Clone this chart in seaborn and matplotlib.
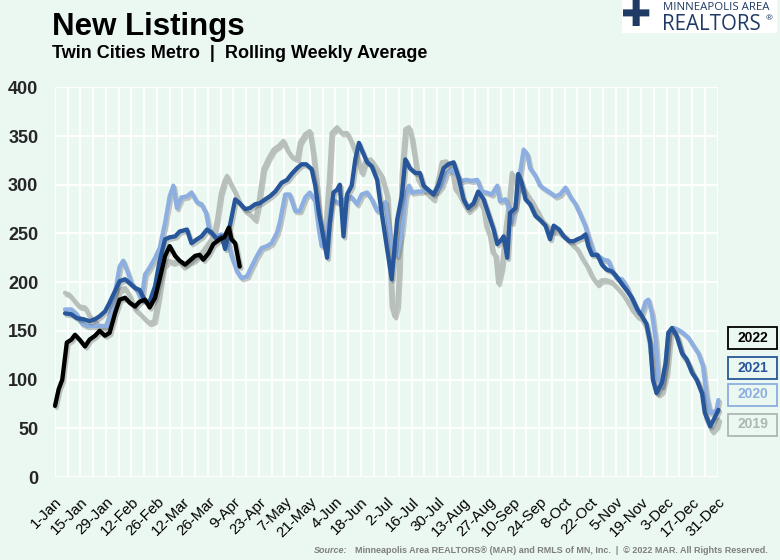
import numpy as np
import pandas as pd
import matplotlib
matplotlib.use("Agg")
import matplotlib.pyplot as plt
import matplotlib.patheffects as pe
from matplotlib.patches import Rectangle
import seaborn as sns

# ---------------- data ----------------
years = ["2019", "2020", "2021", "2022"]

days_2022 = [0, 2, 4, 6.5, 9, 11, 13.5, 16.5, 19, 22, 24.5, 27.5, 30, 33, 35.5, 38.5, 41, 44, 46.5, 49.5,
             52, 55, 57.5, 60.5, 63, 66, 68.5, 71.5, 74, 77, 79.5, 81.5, 84.5, 87, 90.5, 93, 95.5, 97, 99, 101.5]
vals_2022 = [73, 90, 100, 138, 141, 146, 141, 134, 141, 145, 150, 145, 148, 168, 182, 184, 179, 175, 180, 182,
             174, 184, 203, 227, 237, 227, 222, 218, 222, 227, 228, 223, 230, 239, 244, 246, 256, 244, 240, 216]

days_2021 = [5.5, 9, 12, 15.5, 19, 22, 24.5, 27.5, 30, 33,
             35.5, 38.5, 41, 44, 46.5, 49.5, 52, 55, 57.5, 60.5,
             63, 66, 68.5, 72.5, 75, 78, 80.5, 83.5, 86, 89,
             91.5, 93.5, 96, 99, 101.5, 104.5, 107, 110, 112.5, 115.5,
             118, 121, 124.5, 127.5, 130, 133, 135.5, 138, 141, 143,
             145, 146.5, 149.5, 151, 153, 155, 156.5, 158.5, 160.5, 163,
             165, 167, 168.5, 171.5, 174, 177, 179.5, 182.5, 185, 188,
             190.5, 192.5, 195, 198, 200.5, 202.5, 205, 208, 210.5, 213.5,
             216, 219, 221.5, 224.5, 227, 230, 232.5, 235.5, 238, 241,
             243, 245.5, 246.5, 248.5, 250, 253, 254.5, 256.5, 258.5, 261,
             264, 266.5, 269.5, 272, 274, 277, 279.5, 282.5, 285, 287,
             289.5, 291.5, 293, 295, 298, 300.5, 303, 306, 308.5, 311.5,
             314, 317, 320, 322.5, 325, 327, 328.5, 330.5, 333.5, 335.5,
             337, 339, 341.5, 344.5, 347, 350, 352.5, 355.5, 357, 360,
             362.5, 364.5]
vals_2021 = [168, 167, 163, 162, 160, 162, 165, 170, 179, 191,
             201, 203, 199, 194, 192, 180, 180, 196, 222, 244,
             246, 247, 252, 254, 240, 244, 247, 254, 251, 244,
             247, 234, 257, 285, 281, 275, 276, 280, 281, 285,
             288, 293, 302, 305, 311, 317, 321, 321, 316, 299,
             271, 256, 225, 261, 292, 295, 300, 247, 290, 299,
             326, 343, 336, 323, 319, 305, 271, 234, 203, 264,
             288, 326, 317, 312, 312, 299, 295, 290, 299, 317,
             321, 323, 309, 285, 276, 281, 293, 285, 271, 254,
             239, 244, 247, 225, 271, 276, 311, 302, 285, 280,
             268, 264, 258, 244, 258, 254, 247, 242, 242, 244,
             246, 249, 237, 228, 228, 218, 213, 211, 206, 198,
             192, 184, 172, 165, 157, 138, 100, 86, 97, 117,
             148, 153, 145, 127, 121, 107, 100, 86, 66, 52,
             61, 69]

days_2020 = [5.5, 9, 12, 14.5, 17.5, 21, 24.5, 28.5, 30, 33,
             35.5, 37.5, 40, 42, 45, 47.5, 49.5, 52, 55, 57.5,
             60.5, 63, 65, 67, 69.5, 72.5, 75, 78, 80.5, 83,
             85, 88, 91.5, 94.5, 97, 100, 102.5, 105.5, 108, 111,
             113.5, 116.5, 119, 122, 123.5, 126.5, 129, 132, 134.5, 137.5,
             140, 143, 145, 146.5, 149.5, 152, 155, 157.5, 160.5, 163,
             166, 168.5, 171.5, 174, 177, 179.5, 181.5, 183.5, 186, 188,
             190.5, 192.5, 194.5, 196, 199, 201.5, 204, 207, 210, 212.5,
             215, 218, 221, 223.5, 226, 229, 232, 234.5, 237, 240,
             243, 244.5, 247.5, 249, 251, 254, 255.5, 257.5, 259.5, 261,
             264, 266.5, 269.5, 272, 275, 277.5, 280.5, 283, 286, 288.5,
             291.5, 293, 296, 298.5, 301.5, 304, 306, 308.5, 311.5, 314,
             317, 320, 322.5, 324.5, 326, 328, 330, 331.5, 333.5, 335.5,
             337, 340, 342.5, 345, 348, 351, 353.5, 356, 358, 360,
             361.5, 363.5, 364.5]
vals_2020 = [172, 172, 167, 158, 155, 155, 155, 155, 165, 189,
             216, 222, 210, 199, 192, 182, 208, 215, 225, 235,
             261, 288, 299, 276, 287, 288, 292, 282, 280, 271,
             251, 247, 249, 247, 227, 211, 204, 206, 216, 227,
             235, 237, 240, 251, 261, 290, 290, 273, 273, 287,
             292, 283, 254, 237, 251, 285, 282, 280, 288, 287,
             280, 290, 292, 285, 273, 278, 282, 254, 230, 227,
             251, 288, 299, 292, 293, 293, 295, 292, 293, 299,
             312, 316, 309, 304, 305, 304, 305, 293, 292, 290,
             299, 283, 285, 278, 261, 288, 312, 336, 331, 317,
             309, 299, 295, 292, 288, 290, 297, 288, 280, 270,
             257, 247, 230, 227, 223, 222, 213, 204, 203, 196,
             182, 170, 168, 180, 182, 168, 141, 100, 93, 117,
             148, 153, 151, 148, 143, 134, 127, 114, 83, 66,
             66, 69, 79]

days_2019 = [5.5, 8, 11, 13.5, 16.5, 19, 22, 24.5, 27.5, 30,
             33, 35.5, 38.5, 41, 44, 46.5, 49.5, 52, 54.5, 57,
             59.5, 62.5, 65, 68, 70.5, 73.5, 76, 79, 81.5, 84.5,
             87, 89, 91, 93, 94.5, 97, 99, 101.5, 104.5, 107,
             110, 111.5, 114.5, 117, 120, 123, 125.5, 127.5, 130, 133,
             134.5, 137.5, 140, 142, 144, 145.5, 148.5, 150.5, 152, 155,
             157.5, 160.5, 163, 166, 168.5, 170.5, 173.5, 176, 179.5, 182.5,
             184, 185, 186.5, 188, 189, 190.5, 192.5, 194.5, 196, 198,
             199.5, 202.5, 205, 208, 210.5, 212.5, 215, 218, 220, 221.5,
             224.5, 227, 230, 232.5, 235.5, 237, 239, 240.5, 242, 243.5,
             245.5, 247.5, 249, 251, 253, 254.5, 256.5, 259.5, 262, 265,
             267.5, 270.5, 273, 276, 278.5, 281, 284, 287, 289.5, 292.5,
             295, 298, 300.5, 303, 306, 308.5, 311.5, 314, 317, 320,
             322.5, 325, 327, 329, 331.5, 333.5, 336, 338, 340, 342.5,
             345, 348, 351, 353.5, 356, 358, 361, 363.5, 364.5]
vals_2019 = [189, 187, 180, 175, 174, 165, 160, 155, 153, 165,
             182, 192, 194, 186, 172, 168, 162, 158, 160, 186,
             216, 222, 220, 222, 216, 220, 222, 227, 232, 240,
             247, 264, 290, 303, 309, 299, 292, 281, 273, 270,
             264, 278, 316, 326, 336, 340, 345, 336, 329, 326,
             343, 352, 355, 329, 295, 261, 254, 305, 353, 359,
             353, 353, 343, 329, 312, 324, 326, 319, 309, 288,
             220, 175, 165, 175, 210, 312, 357, 359, 348, 323,
             305, 295, 290, 285, 305, 323, 324, 317, 295, 292,
             281, 273, 278, 285, 275, 257, 247, 230, 228, 199,
             216, 254, 275, 312, 305, 295, 299, 290, 283, 273,
             264, 258, 252, 252, 249, 246, 239, 234, 225, 216,
             206, 198, 202, 202, 200, 195, 189, 182, 172, 165,
             162, 153, 134, 97, 85, 88, 107, 145, 150, 141,
             124, 117, 105, 97, 83, 59, 47, 52, 59]

x_tick_labels = ["1-Jan", "15-Jan", "29-Jan", "12-Feb", "26-Feb", "12-Mar", "26-Mar", "9-Apr",
                 "23-Apr", "7-May", "21-May", "4-Jun", "18-Jun", "2-Jul", "16-Jul", "30-Jul",
                 "13-Aug", "27-Aug", "10-Sep", "24-Sep", "8-Oct", "22-Oct", "5-Nov", "19-Nov",
                 "3-Dec", "17-Dec", "31-Dec"]
y_ticks = [0, 50, 100, 150, 200, 250, 300, 350, 400]

# ---------------- style ----------------
BG = "#EBF7F1"
palette = {"2022": "#000000", "2021": "#27579A", "2020": "#8CAEE0", "2019": "#B8C0BC"}

sns.set_style("white", rc={"axes.facecolor": BG, "figure.facecolor": BG})
plt.rcParams["font.family"] = ["Liberation Sans", "DejaVu Sans"]

series = {"2019": (days_2019, vals_2019), "2020": (days_2020, vals_2020),
          "2021": (days_2021, vals_2021), "2022": (days_2022, vals_2022)}
df = pd.concat([pd.DataFrame({"day": d, "listings": v, "year": yr})
                for yr, (d, v) in series.items()], ignore_index=True)

fig = plt.figure(figsize=(7.8, 5.6), dpi=100)
fig.patch.set_facecolor(BG)
ax = fig.add_axes([55 / 780, 1 - 477 / 560, 662.5 / 780, 389.7 / 560])
ax.set_facecolor(BG)

sns.lineplot(data=df, x="day", y="listings", hue="year", hue_order=years,
             palette=palette, estimator=None, sort=True, linewidth=3.1,
             legend=False, ax=ax)

for ln in ax.lines:
    ln.set_solid_joinstyle("round")
    ln.set_solid_capstyle("round")
    ln.set_clip_on(False)
    ln.set_path_effects([pe.SimpleLineShadow(offset=(1.2, -1.5), shadow_color="#4a4a4a", alpha=0.3),
                         pe.Normal()])

ax.set_xlim(0, 364)
ax.set_ylim(0, 400)
ax.set_xticks(np.arange(0, 365, 14))
ax.set_xticklabels(x_tick_labels, rotation=45, ha="right", va="top",
                   rotation_mode="anchor", fontsize=10.8, color="#000000")
ax.set_xticks(np.arange(0, 365, 7), minor=True)
ax.set_yticks(y_ticks)
ax.set_yticklabels([str(t) for t in y_ticks], fontsize=13, fontweight="bold")
ax.tick_params(axis="both", which="both", length=0)
ax.tick_params(axis="y", pad=12)
ax.tick_params(axis="x", pad=13)
ax.grid(True, which="both", axis="x", color="white", linewidth=1.3)
ax.grid(True, which="major", axis="y", color="white", linewidth=1.3)
ax.set_axisbelow(True)
for s in ax.spines.values():
    s.set_visible(False)
ax.set_xlabel("")
ax.set_ylabel("")

# ---------------- titles ----------------
fig.text(52 / 780, 1 - 35 / 560, "New Listings", fontsize=22.5, fontweight="bold",
         ha="left", va="baseline", color="#000000")
fig.text(52 / 780, 1 - 57.5 / 560, "Twin Cities Metro  |  Rolling Weekly Average", fontsize=13,
         fontweight="bold", ha="left", va="baseline", color="#000000")

# ---------------- logo ----------------
NAVY = "#1F3A64"
fig.patches.append(Rectangle((622 / 780, 1 - 33 / 560), 155 / 780, 33 / 560,
                             transform=fig.transFigure, facecolor="white", edgecolor="none", zorder=0))
fig.text(636 / 780, 1 - 15.5 / 560, "\u271A", fontsize=26, color=NAVY, ha="center", va="center",
         family=["DejaVu Sans"], fontweight="bold")
fig.text(663 / 780, 1 - 10.5 / 560, "MINNEAPOLIS AREA", fontsize=8.2, color=NAVY,
         ha="left", va="baseline", family=["Open Sans", "DejaVu Sans"])
fig.text(662 / 780, 1 - 30 / 560, "REALTORS", fontsize=14.8, color=NAVY,
         ha="left", va="baseline", family=["Open Sans", "DejaVu Sans"])
fig.text(766 / 780, 1 - 20 / 560, "\u00AE", fontsize=6, color=NAVY,
         ha="left", va="baseline", family=["Open Sans", "DejaVu Sans"])

# ---------------- legend boxes ----------------
legend_items = [("2022", 337.5), ("2021", 368), ("2020", 394.5), ("2019", 424.5)]
for yr, yc in legend_items:
    col = palette[yr]
    if yr == "2019":
        col = "#AEB6B2"
    w, h = 49, 22
    x0 = 728
    fig.patches.append(Rectangle((x0 / 780, 1 - (yc + h / 2) / 560), w / 780, h / 560,
                                 transform=fig.transFigure, facecolor=BG, edgecolor=col,
                                 linewidth=1.3))
    fig.text((x0 + w / 2) / 780, 1 - yc / 560, yr, fontsize=10, fontweight="bold",
             color=col, ha="center", va="center")

# ---------------- source ----------------
src = fig.text(768 / 780, 1 - 553 / 560,
               "Minneapolis Area REALTORS\u00AE (MAR) and RMLS of MN, Inc.  |  \u00A9 2022 MAR. All Rights Reserved.",
               fontsize=6.5, fontweight="bold", color="#7F7F7F", ha="right", va="baseline")
fig.canvas.draw()
bb = src.get_window_extent()
fig.text((bb.x0 - 8) / 780, 1 - 553 / 560, "Source:", fontsize=6.5, fontweight="bold",
         style="italic", color="#7F7F7F", ha="right", va="baseline")

fig.savefig("out.png", dpi=100, facecolor=BG)
